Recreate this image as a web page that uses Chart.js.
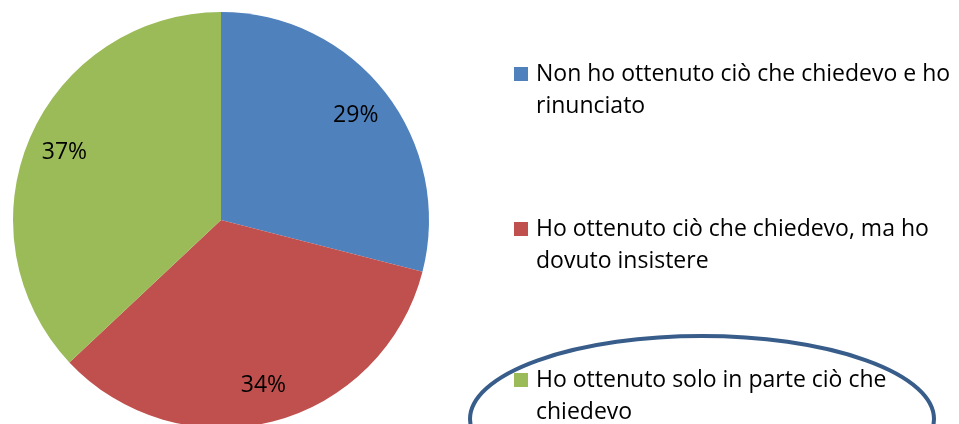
<!DOCTYPE html>
<html>
<head>
<meta charset="utf-8">
<script src="https://cdn.jsdelivr.net/npm/chart.js@4/dist/chart.umd.min.js"></script>
<style>
  html, body { margin: 0; padding: 0; background: #fff; overflow: hidden; }
  #wrap { position: relative; width: 959px; height: 440px; }
</style>
</head>
<body>
<div id="wrap"><canvas id="pieChart"></canvas></div>
<script>
// categories (already split into the lines they wrap to)
var labels = [
    ["Non ho ottenuto ciò che chiedevo e ho", "rinunciato"],
    ["Ho ottenuto ciò che chiedevo, ma ho", "dovuto insistere"],
    ["Ho ottenuto solo in parte ciò che", "chiedevo"]
];
var values = [29, 34, 37];
var colors = ["#4F81BD", "#C0504D", "#9BBB59"];
var highlighted = 2; // the item circled in the original

var font = "23px 'Open Sans', sans-serif";

// percentage text inside each slice
var sliceLabels = {
    id: "sliceLabels",
    afterDatasetsDraw: function(chart) {
        var ctx = chart.ctx;
        var total = values.reduce(function(a, b) { return a + b; }, 0);
        ctx.save();
        ctx.font = font;
        ctx.fillStyle = "#000";
        ctx.textAlign = "center";
        ctx.textBaseline = "middle";
        chart.getDatasetMeta(0).data.forEach(function(arc, i) {
            var p = arc.getProps(["x", "y", "startAngle", "endAngle", "outerRadius"], true);
            var mid = (p.startAngle + p.endAngle) / 2;
            var r = p.outerRadius * 0.82;
            var pct = Math.round(values[i] / total * 100) + "%";
            ctx.fillText(pct, p.x + Math.cos(mid) * r, p.y + Math.sin(mid) * r);
        });
        ctx.restore();
    }
};

// legend on the right, plus the hand drawn ellipse around one item
var sideLegend = {
    id: "sideLegend",
    afterDraw: function(chart) {
        var ctx = chart.ctx;
        var boxX = 514, boxSize = 14, textX = 536;
        var firstLines = [81, 236, 387];
        var lineGap = 32;
        ctx.save();
        ctx.font = font;
        ctx.textAlign = "left";
        ctx.textBaseline = "alphabetic";
        for (var i = 0; i < labels.length; i++) {
            var base = firstLines[i];
            ctx.fillStyle = colors[i];
            ctx.fillRect(boxX, base - boxSize, boxSize, boxSize);
            ctx.fillStyle = "#000";
            for (var j = 0; j < labels[i].length; j++) {
                ctx.fillText(labels[i][j], textX, base + j * lineGap);
            }
        }
        // ellipse around the highlighted item
        var hb = firstLines[highlighted];
        ctx.beginPath();
        ctx.ellipse(702, hb + 32, 232, 83, 0, 0, Math.PI * 2);
        ctx.strokeStyle = "#385D8A";
        ctx.lineWidth = 4;
        ctx.stroke();
        ctx.restore();
    }
};

var pieChart = new Chart(document.getElementById("pieChart"), {
    type: "pie",
    data: {
        labels: labels,
        datasets: [{
            data: values,
            backgroundColor: colors,
            borderWidth: 0
        }]
    },
    options: {
        responsive: true,
        maintainAspectRatio: false,
        animation: false,
        layout: { padding: { left: 13, right: 530, top: 12, bottom: 12 } },
        plugins: {
            legend: { display: false },
            tooltip: { enabled: false }
        }
    },
    plugins: [sliceLabels, sideLegend]
});
</script>
</body>
</html>
